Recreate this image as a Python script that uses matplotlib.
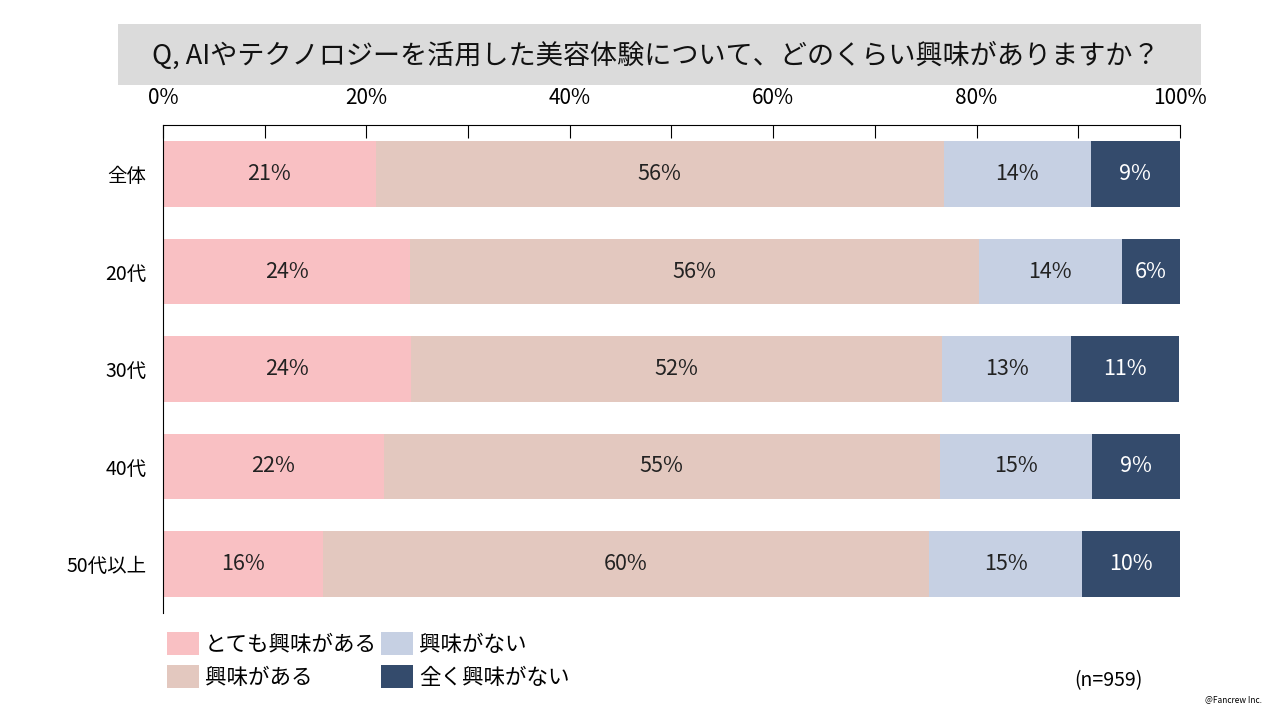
import matplotlib.pyplot as plt
from matplotlib.patches import Rectangle, Patch
import numpy as np

plt.rcParams['font.family'] = ['Noto Sans CJK JP', 'DejaVu Sans']

categories = ['全体', '20代', '30代', '40代', '50代以上']
series_names = ['とても興味がある', '興味がある', '興味がない', '全く興味がない']
very = [20.9, 24.3, 24.4, 21.7, 15.7]
some = [55.9, 55.9, 52.2, 54.7, 59.6]
not_much = [14.4, 14.1, 12.7, 14.9, 15.1]
none = [8.8, 5.7, 10.6, 8.7, 9.6]
colors = ['#F9C0C3', '#E3C8BF', '#C6D0E3', '#344B6C']
text_colors = ['#222222', '#222222', '#222222', 'white']
title = 'Q, AIやテクノロジーを活用した美容体験について、どのくらい興味がありますか？'

fig = plt.figure(figsize=(12.8, 7.2), dpi=100)
ax = fig.add_axes([0.1273, 0.149, 0.7946, 0.677])

# gray title box
fig.add_artist(Rectangle((0.092, 0.882), 0.846, 0.084, transform=fig.transFigure,
                         facecolor='#DBDBDB', edgecolor='none'))
fig.text(0.512, 0.923, title, ha='center', va='center', fontsize=19.5, color='#111111')

y = np.arange(len(categories))
left = np.zeros(len(categories))
for vals, c, tc, name in zip([very, some, not_much, none], colors, text_colors, series_names):
    vals = np.array(vals)
    ax.barh(y, vals, left=left, height=0.67, color=c, label=name)
    for yi, l, v in zip(y, left, vals):
        ax.text(l + v / 2, yi, f'{v:.0f}%', ha='center', va='center', fontsize=15.5, color=tc)
    left += vals

ax.set_xlim(0, 100)
ax.set_ylim(4.5, -0.5)
ax.set_yticks(y)
ax.set_yticklabels(categories, fontsize=14)
ax.tick_params(axis='y', length=0, pad=12)
ax.xaxis.tick_top()
ax.set_xticks(np.arange(0, 101, 20))
ax.set_xticklabels([f'{t}%' for t in range(0, 101, 20)], fontsize=15)
ax.set_xticks(np.arange(10, 100, 20), minor=True)
ax.tick_params(axis='x', which='both', direction='in', length=9, width=0.8, pad=12)
ax.spines['right'].set_visible(False)
ax.spines['bottom'].set_visible(False)

handles = [Patch(facecolor=c, edgecolor='none') for c in colors]
fig.legend(handles, series_names, ncol=2, loc='upper left', bbox_to_anchor=(0.124, 0.134),
           frameon=False, fontsize=15.5, handlelength=1.45, handleheight=1.25,
           handletextpad=0.3, columnspacing=0.2, labelspacing=0.45, borderaxespad=0)

fig.text(0.866, 0.055, '(n=959)', ha='center', va='center', fontsize=14)
fig.text(0.986, 0.028, '@Fancrew Inc.', ha='right', va='center', fontsize=6)

fig.savefig('out.png', dpi=100)
